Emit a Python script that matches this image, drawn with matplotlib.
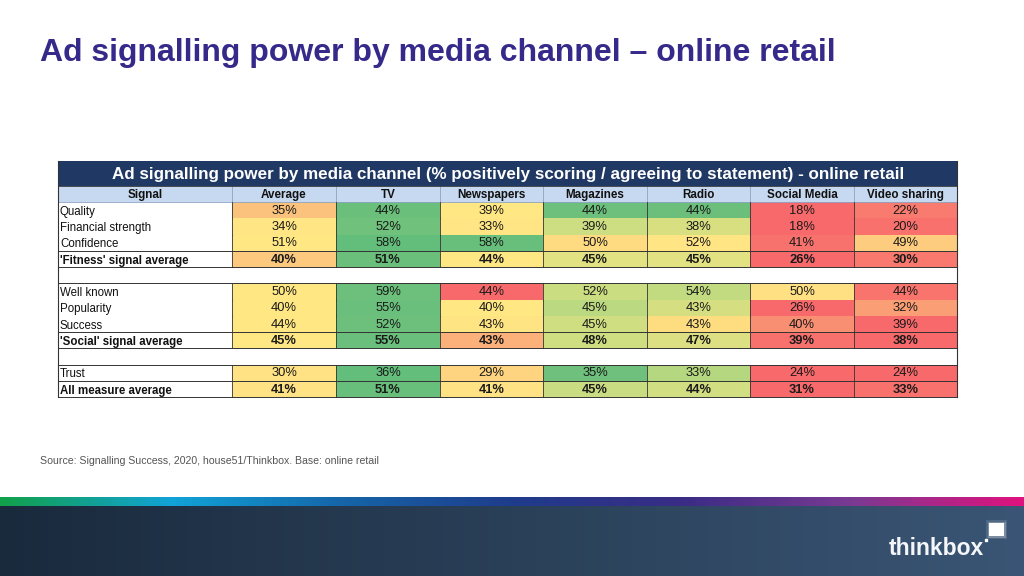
import numpy as np
import matplotlib.pyplot as plt
from matplotlib.patches import Rectangle
from matplotlib.colors import LinearSegmentedColormap

plt.rcParams['font.family'] = ['Liberation Sans', 'DejaVu Sans']

title = 'Ad signalling power by media channel \u2013 online retail'
banner = ('Ad signalling power by media channel (% positively scoring / '
          'agreeing to statement) - online retail')
source = 'Source: Signalling Success, 2020, house51/Thinkbox. Base: online retail'

columns = ['Signal', 'Average', 'TV', 'Newspapers', 'Magazines', 'Radio',
           'Social Media', 'Video sharing']

# None marks a blank separator row
signals = ['Quality', 'Financial strength', 'Confidence', "'Fitness' signal average",
           None,
           'Well known', 'Popularity', 'Success', "'Social' signal average",
           None,
           'Trust', 'All measure average']
bold_rows = ["'Fitness' signal average", "'Social' signal average", 'All measure average']

values = [
    [35, 44, 39, 44, 44, 18, 22],
    [34, 52, 33, 39, 38, 18, 20],
    [51, 58, 58, 50, 52, 41, 49],
    [40, 51, 44, 45, 45, 26, 30],
    None,
    [50, 59, 44, 52, 54, 50, 44],
    [40, 55, 40, 45, 43, 26, 32],
    [44, 52, 43, 45, 43, 40, 39],
    [45, 55, 43, 48, 47, 39, 38],
    None,
    [30, 36, 29, 35, 33, 24, 24],
    [41, 51, 41, 45, 44, 31, 33],
]

# cell fill colours as read from the conditional formatting
cell_colors = [
    ['#FAC27C', '#6ABF7B', '#FFE784', '#6DC07B', '#6CBF7B', '#F8696B', '#F97A6E'],
    ['#FFE583', '#6FC17C', '#FFE583', '#CDDD81', '#D8DF81', '#F8696B', '#F8716C'],
    ['#FFE884', '#64BE7B', '#67BF7B', '#FEDB81', '#FFE583', '#F8726D', '#FDCC7E'],
    ['#FCC97E', '#6AC07B', '#FFE784', '#E3E282', '#E3E282', '#F8696B', '#F9796E'],
    None,
    ['#FFE784', '#6CC07B', '#F8696B', '#CBDD81', '#C2DA80', '#FFE083', '#F8746D'],
    ['#FFE784', '#69BF7B', '#FFE784', '#BBD980', '#D5DF81', '#F8696B', '#FA9E75'],
    ['#FFE784', '#6DC07B', '#FFE483', '#CFDE81', '#FEDD81', '#F98F72', '#F8696B'],
    ['#FFE784', '#69BF7B', '#FBB179', '#CFDE81', '#DCE082', '#F8716C', '#F8696B'],
    None,
    ['#FFE283', '#63BE7B', '#FED480', '#6FC07C', '#B5D77F', '#F8696B', '#F8696B'],
    ['#FFE283', '#68BF7B', '#FFE283', '#C9DC81', '#D1DE81', '#F8696B', '#F8716C'],
]

W, H = 1024, 576
fig = plt.figure(figsize=(W / 100, H / 100), dpi=100)
ax = fig.add_axes([0, 0, 1, 1])
ax.set_xlim(0, W)
ax.set_ylim(H, 0)
ax.axis('off')

# slide title
ax.text(40, 60.5, title, fontsize=23.0, fontweight='bold', color='#35298A',
        va='baseline', ha='left')

# table geometry
x_edges = [58, 232, 336, 440, 543, 647, 750, 854, 957]
banner_top, header_top, body_top, row_h = 161, 186, 202, 16.25
line_c = '#333333'

ax.add_patch(Rectangle((x_edges[0], banner_top), x_edges[-1] - x_edges[0],
                       header_top - banner_top, color='#1F3864', lw=0))
ax.text((x_edges[0] + x_edges[-1]) / 2 + 1, banner_top + 17.5, banner,
        color='white', fontsize=12.25, fontweight='bold', ha='center', va='baseline')

ax.add_patch(Rectangle((x_edges[0], header_top), x_edges[-1] - x_edges[0],
                       body_top - header_top, facecolor='#C6D9F0', lw=0))
for j, name in enumerate(columns):
    ax.text((x_edges[j] + x_edges[j + 1]) / 2, header_top + 12.3, name,
            fontsize=8.4, fontweight='bold', ha='center', va='baseline', color='#111111')
    if j > 0:
        ax.plot([x_edges[j], x_edges[j]], [header_top, body_top], color='#8CA4C4', lw=0.6)
ax.plot([x_edges[0], x_edges[-1]], [header_top, header_top], color=line_c, lw=0.6)
ax.plot([x_edges[0], x_edges[-1]], [body_top, body_top], color='#8CA4C4', lw=0.6)

for i, label in enumerate(signals):
    y0 = body_top + i * row_h
    y1 = y0 + row_h
    if label is None:
        ax.plot([x_edges[0], x_edges[-1]], [y1, y1], color=line_c, lw=0.7)
        continue
    bold = label in bold_rows
    weight = 'bold' if bold else 'normal'
    for j, v in enumerate(values[i]):
        ax.add_patch(Rectangle((x_edges[j + 1], y0), x_edges[j + 2] - x_edges[j + 1], row_h,
                               facecolor=cell_colors[i][j], lw=0))
        ax.text((x_edges[j + 1] + x_edges[j + 2]) / 2, y0 + 11.8, f'{v}%',
                fontsize=9.3, fontweight=weight, ha='center', va='baseline', color='#1A1A1A')
    ax.text(x_edges[0] + 2, y0 + 12.8, label, fontsize=8.3, fontweight=weight,
            ha='left', va='baseline', color='#111111')
    for xe in x_edges[1:-1]:
        ax.plot([xe, xe], [y0, y1], color=line_c, lw=0.6)
    if bold:
        ax.plot([x_edges[0], x_edges[-1]], [y0, y0], color=line_c, lw=0.7)
        ax.plot([x_edges[0], x_edges[-1]], [y1, y1], color=line_c, lw=0.7)

table_bottom = body_top + len(signals) * row_h
for xe in (x_edges[0], x_edges[-1]):
    ax.plot([xe, xe], [banner_top, table_bottom], color=line_c, lw=0.8)

# source note
ax.text(40, 461, source, fontsize=7.6, color='#555555', ha='left', va='center')

# footer: colour strip and dark band
strip = LinearSegmentedColormap.from_list(
    'strip', ['#12A04A', '#11A3D8', '#1565A8', '#1F3C8C', '#3A2C85', '#7A3A92', '#E0127E'])
grad = np.linspace(0, 1, 512).reshape(1, -1)
ax.imshow(grad, cmap=strip, extent=(0, W, 506, 497), aspect='auto', zorder=1)
band = LinearSegmentedColormap.from_list('band', ['#1A2A3D', '#2A4058', '#3A5575'])
ax.imshow(grad, cmap=band, extent=(0, W, H, 506), aspect='auto', zorder=1)
ax.set_xlim(0, W)
ax.set_ylim(H, 0)

# logo
ax.text(889, 555, 'thinkbox', fontsize=16.5, color='#F4F6F9', ha='left', va='baseline',
        fontweight='bold', zorder=3)
for pad, alpha in ((3, 0.12), (1.5, 0.25)):
    ax.add_patch(Rectangle((989 - pad, 523 - pad), 15 + 2 * pad, 13 + 2 * pad,
                           facecolor='white', alpha=alpha, lw=0, zorder=3))
ax.add_patch(Rectangle((989, 523), 15, 13, facecolor='white', lw=0, zorder=3))
ax.plot([986], [540], marker='s', ms=1.6, color='white', zorder=3)

fig.savefig('out.png', dpi=100)
